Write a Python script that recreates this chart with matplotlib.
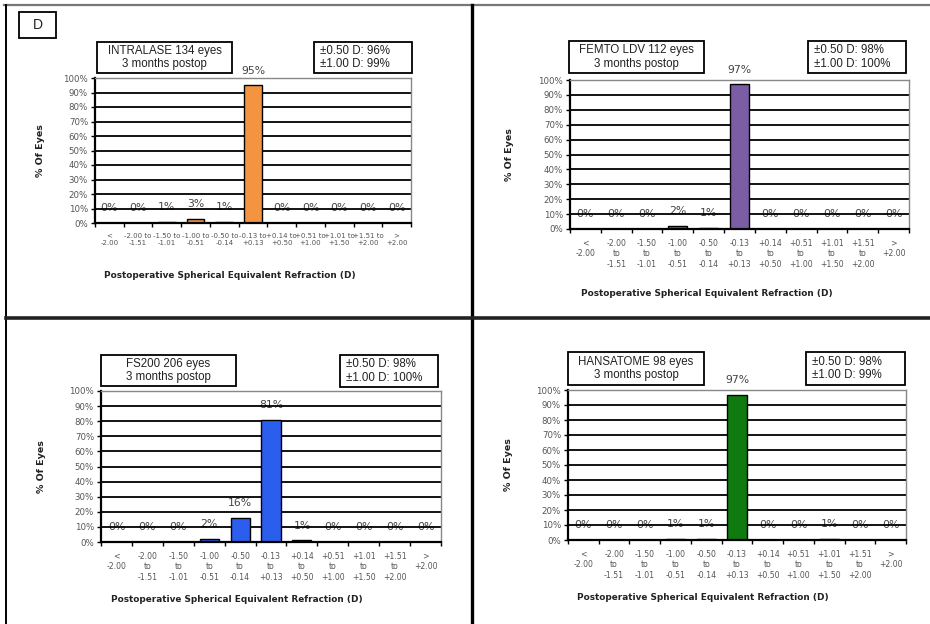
import matplotlib
matplotlib.use("Agg")
import matplotlib.pyplot as plt
from matplotlib.lines import Line2D
from matplotlib.patches import Rectangle

W, H = 930, 624

# ---- data ----
ranges_lo = ["<", "-2.00", "-1.50", "-1.00", "-0.50", "-0.13", "+0.14", "+0.51", "+1.01", "+1.51", ">"]
ranges_hi = ["-2.00", "-1.51", "-1.01", "-0.51", "-0.14", "+0.13", "+0.50", "+1.00", "+1.50", "+2.00", "+2.00"]

intralase = [0, 0, 1, 3, 1, 95, 0, 0, 0, 0, 0]
femto_ldv = [0, 0, 0, 2, 1, 97, 0, 0, 0, 0, 0]
fs200 = [0, 0, 0, 2, 16, 81, 1, 0, 0, 0, 0]
hansatome = [0, 0, 0, 1, 1, 97, 0, 0, 1, 0, 0]

titles = ["INTRALASE 134 eyes\n3 months postop", "FEMTO LDV 112 eyes\n3 months postop",
          "FS200 206 eyes\n3 months postop", "HANSATOME 98 eyes\n3 months postop"]
stats = ["±0.50 D: 96%\n±1.00 D: 99%", "±0.50 D: 98%\n±1.00 D: 100%",
         "±0.50 D: 98%\n±1.00 D: 100%", "±0.50 D: 98%\n±1.00 D: 99%"]
yticks = [0, 10, 20, 30, 40, 50, 60, 70, 80, 90, 100]
xlabel = "Postoperative Spherical Equivalent Refraction (D)"
ylabel = "% Of Eyes"

colors = ["#F39440", "#7B5DA6", "#2C5EEE", "#0E7A10"]
series = [intralase, femto_ldv, fs200, hansatome]

# two-line labels for panel 1, three-line labels for others
def labels_two():
    out = []
    for i, (lo, hi) in enumerate(zip(ranges_lo, ranges_hi)):
        if lo in ("<", ">"):
            out.append(lo + "\n" + hi)
        else:
            out.append(lo + " to\n" + hi)
    return out

def labels_three():
    out = []
    for lo, hi in zip(ranges_lo, ranges_hi):
        if lo in ("<", ">"):
            out.append(lo + "\n" + hi + "\n ")
        else:
            out.append(lo + "\nto\n" + hi)
    return out

# pixel layouts: axes (left, right, top, bottom), title box, stats box, ylabel x, xlabel (x,y)
layouts = [
    dict(ax=(95, 411, 78, 223), tb=(97, 232, 42, 73), sb=(314, 412, 42, 73), ylx=40, xl=(230, 275)),
    dict(ax=(570, 909, 80, 229), tb=(569, 704, 41, 73), sb=(808, 906, 41, 73), ylx=510, xl=(707, 293)),
    dict(ax=(101, 441, 391, 542), tb=(101, 236, 355, 386), sb=(340, 438, 355, 387), ylx=42, xl=(237, 599)),
    dict(ax=(568, 906, 390, 540), tb=(568, 704, 352, 385), sb=(806, 905, 352, 385), ylx=508, xl=(703, 597)),
]

fig = plt.figure(figsize=(W / 100, H / 100), dpi=100)
fig.patch.set_facecolor("white")

def fx(x):
    return x / W

def fy(y):
    return 1 - y / H

def fig_box(l, r, t, b, text, fam="Liberation Sans", size=8.3, lw=1.3, ha="center"):
    fig.patches.append(Rectangle((fx(l), fy(b)), fx(r) - fx(l), fy(t) - fy(b),
                                 transform=fig.transFigure, facecolor="white",
                                 edgecolor="black", lw=lw, zorder=5))
    if ha == "center":
        tx = (fx(l) + fx(r)) / 2
    else:
        tx = fx(l + 6)
    fig.text(tx, (fy(t) + fy(b)) / 2, text, ha=ha, va="center", fontsize=size,
             family=fam, color="#222222", linespacing=1.15, zorder=6)

xs = list(range(len(ranges_lo)))
for k, (lay, vals, col) in enumerate(zip(layouts, series, colors)):
    l, r, t, b = lay["ax"]
    ax = fig.add_axes([fx(l), fy(b), fx(r) - fx(l), fy(t) - fy(b)])
    ax.set_xlim(-0.5, 10.5)
    ax.set_ylim(0, 100)
    for g in yticks[1:-1]:
        ax.axhline(g, color="black", lw=1.3, zorder=1)
    ax.bar(xs, vals, width=0.62, color=col, edgecolor="black", lw=1.0, zorder=2)
    for x, v in zip(xs, vals):
        ax.annotate(f"{v}%", (x, v), xytext=(0, 10.5), textcoords="offset points",
                    ha="center", va="center", fontsize=7.8, color="#444444",
                    family="DejaVu Sans", zorder=0.5)
    for s in ["top", "right"]:
        ax.spines[s].set_color("#888888")
        ax.spines[s].set_linewidth(1.0)
    ax.spines["left"].set_color("black")
    ax.spines["left"].set_linewidth(1.6)
    ax.spines["bottom"].set_color("black")
    ax.spines["bottom"].set_linewidth(1.6)
    ax.set_yticks(yticks)
    ax.set_yticklabels([f"{v}%" for v in yticks], fontsize=6.2, color="#555555",
                       family="DejaVu Sans")
    ax.tick_params(axis="y", length=3, width=1, pad=2)
    ax.set_xticks(xs)
    if k == 0:
        ax.set_xticklabels(labels_two(), fontsize=5.0, color="#555555",
                           family="DejaVu Sans", linespacing=1.3)
    else:
        ax.set_xticklabels(labels_three(), fontsize=5.6, color="#555555",
                           family="DejaVu Sans", linespacing=1.2)
    ax.tick_params(axis="x", length=0, pad=7)
    ax.set_xticks([i + 0.5 for i in range(-1, 11)], minor=True)
    ax.tick_params(axis="x", which="minor", length=3, width=1, direction="out")
    # titles / stats boxes
    tl, tr, tt, tb_ = lay["tb"]
    fig_box(tl, tr, tt, tb_, titles[k])
    sl, sr, st, sb = lay["sb"]
    fig_box(sl, sr, st, sb, stats[k], ha="left")
    # axis labels
    fig.text(fx(lay["ylx"]), (fy(t) + fy(b)) / 2, ylabel, rotation=90, ha="center",
             va="center", fontsize=6.8, fontweight="bold", family="DejaVu Sans",
             color="#222222")
    xlx, xly = lay["xl"]
    fig.text(fx(xlx), fy(xly), xlabel, ha="center", va="center", fontsize=6.4,
             fontweight="bold", family="DejaVu Sans", color="#222222")

# panel letter
fig_box(19, 56, 12, 38, "D", size=10, lw=1.3)

# frame lines
fig.add_artist(Line2D([fx(4), fx(930)], [fy(5), fy(5)], color="#777777", lw=1.6,
                      transform=fig.transFigure))
fig.add_artist(Line2D([fx(6), fx(6)], [fy(5), fy(624)], color="black", lw=1.4,
                      transform=fig.transFigure))
fig.add_artist(Line2D([fx(472), fx(472)], [fy(5), fy(624)], color="black", lw=2.4,
                      transform=fig.transFigure))
fig.add_artist(Line2D([fx(6), fx(930)], [fy(318), fy(318)], color="#222222", lw=2.6,
                      transform=fig.transFigure))

fig.savefig("out.png", dpi=100, facecolor="white")
